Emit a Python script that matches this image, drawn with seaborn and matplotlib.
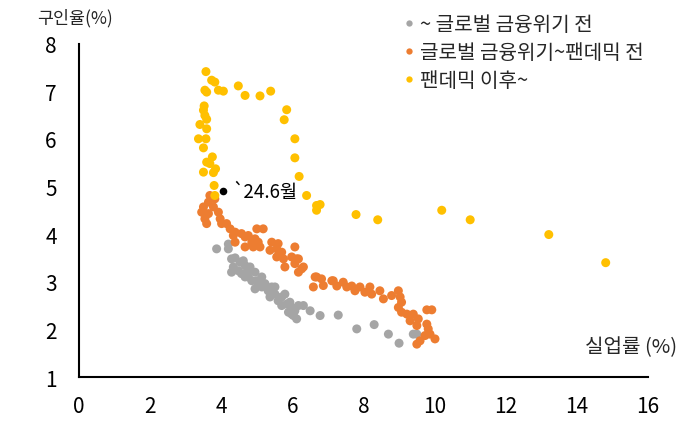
import matplotlib
matplotlib.use("Agg")
import matplotlib.pyplot as plt
import seaborn as sns
import pandas as pd

# ---- data ----
labels = ["~ 글로벌 금융위기 전", "글로벌 금융위기~팬데믹 전", "팬데믹 이후~"]
colors = ["#A5A5A5", "#ED7D31", "#FFC000"]

gray_x = [3.87, 4.20, 4.20, 4.29, 4.39, 4.53, 4.62, 4.67, 4.34, 4.29, 4.48, 4.57, 4.72,
          4.76, 4.67, 4.86, 4.95, 5.00, 5.04, 4.95, 5.14, 5.23, 5.32, 5.42, 5.37, 5.51,
          5.60, 5.70, 5.79, 5.84, 5.93, 5.98, 5.89, 6.07, 6.03, 6.17, 6.12, 6.31, 6.50,
          6.78, 4.81, 5.14, 5.51, 5.70, 5.98, 7.29, 7.81, 8.30, 8.70, 9.00, 9.40, 9.50]
gray_y = [3.69, 3.79, 3.69, 3.48, 3.50, 3.41, 3.44, 3.34, 3.31, 3.20, 3.23, 3.17, 3.20,
          3.10, 3.10, 3.02, 3.20, 3.02, 2.96, 2.85, 2.89, 2.96, 2.81, 2.89, 2.68, 2.74,
          2.60, 2.68, 2.74, 2.53, 2.57, 2.46, 2.36, 2.39, 2.29, 2.50, 2.22, 2.50, 2.39,
          2.29, 3.31, 3.10, 2.89, 2.50, 2.32, 2.30, 2.01, 2.10, 1.90, 1.71, 1.90, 1.90]

orange_x = [3.68, 3.82, 3.64, 3.50, 3.78, 3.45, 3.64, 3.54, 3.59, 3.92, 3.97, 4.01, 4.15,
            4.25, 4.39, 4.34, 4.57, 4.67, 4.76, 5.00, 5.18, 4.95, 5.04, 4.86, 4.67, 4.90,
            5.09, 4.39, 5.42, 5.60, 5.37, 5.56, 5.70, 6.07, 5.56, 5.75, 5.98, 5.79, 6.07,
            6.26, 6.17, 6.64, 6.82, 6.59, 6.87, 7.11, 6.68, 6.12, 6.31, 6.17,
            7.15, 7.25, 7.43, 7.53, 7.67, 7.76, 7.90, 8.04, 8.18, 8.23, 8.46, 8.56, 8.79,
            8.98, 9.03, 9.07, 8.98, 9.07, 9.22, 9.40, 9.31, 9.54, 9.50, 9.78, 9.82, 9.87,
            10.01, 9.73, 9.59, 9.50, 9.78, 9.92]
orange_y = [4.81, 4.74, 4.67, 4.57, 4.57, 4.46, 4.43, 4.32, 4.22, 4.46, 4.32, 4.22, 4.22,
            4.11, 4.04, 3.97, 4.01, 3.94, 3.97, 4.11, 4.11, 3.90, 3.83, 3.83, 3.73, 3.73,
            3.73, 3.83, 3.83, 3.80, 3.66, 3.69, 3.62, 3.73, 3.52, 3.48, 3.52, 3.31, 3.38,
            3.27, 3.48, 3.10, 3.06, 2.89, 2.92, 3.02, 3.10, 3.48, 3.31, 3.20,
            3.02, 2.91, 2.99, 2.89, 2.91, 2.81, 2.89, 2.78, 2.89, 2.74, 2.81, 2.64, 2.71,
            2.81, 2.68, 2.57, 2.46, 2.36, 2.32, 2.32, 2.18, 2.22, 2.08, 2.11, 2.01, 1.90,
            1.80, 1.87, 1.76, 1.69, 2.41, 2.41]

yellow_x = [3.82, 3.84, 3.80, 3.50, 3.78, 3.59, 3.68, 3.75, 3.50, 3.36, 3.57, 3.40, 3.59,
            3.52, 3.50, 3.54, 3.59, 3.54, 3.59, 3.92, 4.06, 3.73, 3.82, 3.57, 4.48, 4.67,
            5.09, 5.39, 5.84, 5.77, 6.07, 6.07, 6.19, 6.40, 6.68, 6.78, 6.68, 7.79, 8.40,
            10.20, 11.00, 13.21, 14.81]
yellow_y = [4.81, 5.37, 5.02, 5.30, 5.29, 5.51, 5.48, 5.62, 5.81, 6.00, 6.00, 6.30, 6.21,
            6.69, 6.60, 6.49, 6.41, 7.02, 6.98, 7.02, 7.00, 7.23, 7.19, 7.41, 7.11, 6.91,
            6.90, 7.00, 6.61, 6.40, 6.00, 5.60, 5.21, 4.81, 4.60, 4.62, 4.50, 4.41, 4.30,
            4.50, 4.30, 3.99, 3.40]

latest_x = [4.06]
latest_y = [4.90]
latest_label = "`24.6월"

x_ticks = [0, 2, 4, 6, 8, 10, 12, 14, 16]
y_ticks = [1, 2, 3, 4, 5, 6, 7, 8]

df = pd.DataFrame({
    "x": gray_x + orange_x + yellow_x,
    "y": gray_y + orange_y + yellow_y,
    "period": [labels[0]] * len(gray_x) + [labels[1]] * len(orange_x) + [labels[2]] * len(yellow_x),
})

sns.set_style("white")
plt.rcParams["font.family"] = ["Noto Sans CJK KR", "DejaVu Sans"]

fig = plt.figure(figsize=(6.91, 4.35), dpi=100)
ax = fig.add_axes([0.1143, 0.131, 0.8235, 0.7667])

sns.scatterplot(data=df, x="x", y="y", hue="period", hue_order=labels,
                palette=dict(zip(labels, colors)), s=42, linewidth=0,
                edgecolor="none", ax=ax, legend=True)

ax.scatter(latest_x, latest_y, s=30, color="black", zorder=5, linewidth=0)
ax.text(latest_x[0] + 0.25, latest_y[0], latest_label, fontsize=13.5,
        va="center", ha="left", color="black")

ax.set_xlim(0, 16)
ax.set_ylim(1, 8)
ax.set_xticks(x_ticks)
ax.set_yticks(y_ticks)
ax.tick_params(axis="both", direction="in", length=5, width=1.3, labelsize=15,
               color="black", labelcolor="black")
ax.tick_params(axis="x", pad=13)
ax.tick_params(axis="y", pad=16)
for side in ["top", "right"]:
    ax.spines[side].set_visible(False)
for side in ["left", "bottom"]:
    ax.spines[side].set_color("black")
    ax.spines[side].set_linewidth(1.5)
ax.set_xlabel("")
ax.set_ylabel("")

fig.text(0.054, 0.958, "구인율(%)", fontsize=12.5, ha="left", va="center")
fig.text(0.980, 0.200, "실업률 (%)", fontsize=14.5, ha="right", va="center")

handles, lbls = ax.get_legend_handles_labels()
ax.legend_.remove()
leg = fig.legend(handles, lbls, loc="upper left", bbox_to_anchor=(0.566, 0.985),
                 frameon=False, fontsize=14.5, handletextpad=0.05, labelspacing=0.35,
                 markerscale=0.7, handlelength=1.0, borderaxespad=0)

fig.savefig("out.png", dpi=100)
